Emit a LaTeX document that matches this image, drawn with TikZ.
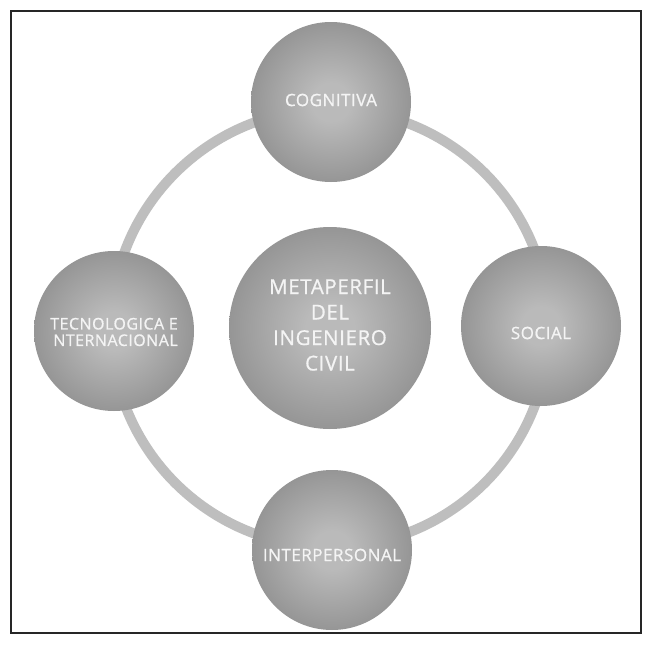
\documentclass[tikz,border=0pt]{standalone}
\usepackage{fontspec}
\setmainfont{Open Sans}
\newfontfamily\labfont[FakeBold=0.8,LetterSpace=3]{Open Sans}
\definecolor{ballin}{HTML}{BABABA}
\definecolor{ballmid}{HTML}{8C8C8C}
\definecolor{ballout}{HTML}{595959}
\definecolor{ringgray}{HTML}{BEBEBE}
\definecolor{txt}{HTML}{F4F4F4}
\pgfdeclareradialshading{sphere}{\pgfpoint{0bp}{0bp}}{color(0bp)=(ballin); color(6bp)=(ballin); color(30bp)=(ballmid); color(50bp)=(ballout)}
\tikzset{
  ball/.style={circle, shading=sphere, inner sep=0pt, minimum size=160pt},
  bigball/.style={ball, minimum size=202pt},
  lbl/.style={text=txt, align=center, inner sep=0pt, font=\labfont\fontsize{17}{18}\selectfont},
  biglbl/.style={lbl, font=\labfont\fontsize{20.5}{25.5}\selectfont},
  ringstyle/.style={circle, draw=ringgray, line width=10pt, minimum size=438pt, inner sep=0pt},
  frame/.style={draw=black!85, line width=1.6pt}
}
\begin{document}
\begin{tikzpicture}[x=1pt,y=-1pt]
\useasboundingbox (0,0) rectangle (654,645);
\fill[white] (0,0) rectangle (654,645);
\node[frame, rectangle, inner sep=0pt, minimum width=630pt, minimum height=622pt] (box) at (326,322) {};
\node[ringstyle] (ring) at (330,328) {};
\node[ball] (cog) at (331,102) {};
\node[ball] (soc) at (541,326) {};
\node[ball] (int) at (332,550) {};
\node[ball] (tec) at (114,331) {};
\node[bigball] (meta) at (330,328) {};
\node[lbl] (cogt) at ([yshift=2pt]cog.center) {COGNITIVA};
\node[lbl] (soct) at ([yshift=-7pt]soc.center) {SOCIAL};
\node[lbl] (intt) at ([yshift=-5pt]int.center) {INTERPERSONAL};
\node[lbl, font=\labfont\fontsize{16}{17.5}\selectfont] (tect) at ([yshift=-1pt]tec.center) {TECNOLOGICA E\\[-1pt]\hspace*{3pt}NTERNACIONAL};
\node[biglbl] (metat) at ([yshift=3pt]meta.center) {METAPERFIL\\DEL\\INGENIERO\\CIVIL};
\end{tikzpicture}
\end{document}
